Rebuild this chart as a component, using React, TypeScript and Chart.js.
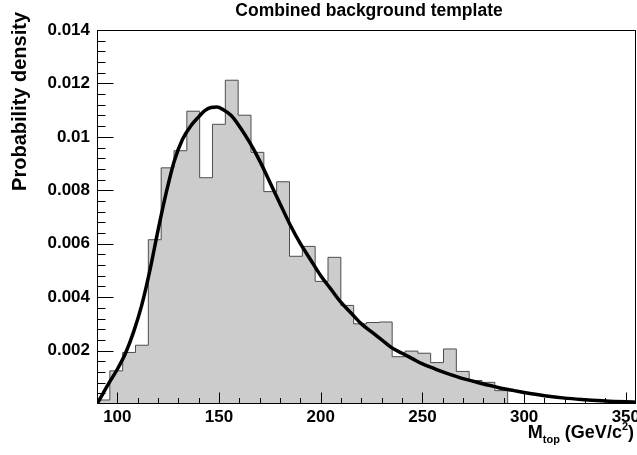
import React, { useEffect, useRef } from "react";
import { Chart, registerables } from "chart.js";

Chart.register(...registerables);

// ---- axis ranges ----
const X_MIN = 90;
const X_MAX = 355;
const Y_MIN = 0;
const Y_MAX = 0.014;

// ---- histogram (42 bins from 90 to 355 GeV/c^2) ----
const BIN_LOW = 90;
const BIN_HIGH = 355;
const binContents = [
  0.00015, 0.00124, 0.00193, 0.0022, 0.00615, 0.00884, 0.00948, 0.01096,
  0.00847, 0.01047, 0.01212, 0.01081, 0.00942, 0.00795, 0.00832, 0.00553,
  0.0059, 0.00459, 0.00549, 0.00369, 0.003, 0.00305, 0.00307, 0.00177,
  0.00198, 0.0019, 0.00155, 0.00206, 0.00122, 0.00088, 0.00081, 0.0005,
  0, 0, 0, 0, 0, 0, 0, 0, 0, 0,
];

// ---- fitted template curve ----
const curveMass = [
  90, 93, 96, 100, 104, 108, 112, 116, 120, 124, 128, 132, 136, 140, 143, 146,
  149, 152, 156, 160, 165, 170, 175, 180, 185, 190, 195, 200, 205, 210, 215,
  220, 225, 230, 235, 240, 245, 250, 255, 260, 265, 270, 275, 280, 285, 290,
  295, 300, 310, 320, 330, 340, 350, 355,
];
const curveDensity = [
  0.0, 0.0004, 0.0008, 0.0013, 0.0019, 0.0027, 0.0037, 0.005, 0.0065, 0.0079,
  0.0091, 0.0099, 0.0104, 0.01075, 0.01098, 0.0111, 0.01112, 0.01102, 0.0108,
  0.0104, 0.0098, 0.0091, 0.0083, 0.0075, 0.0067, 0.006, 0.0054, 0.0048,
  0.0043, 0.0038, 0.0034, 0.003, 0.0027, 0.0024, 0.0021, 0.0019, 0.0017,
  0.0015, 0.00135, 0.0012, 0.00107, 0.00095, 0.00085, 0.00075, 0.00066,
  0.00057, 0.0005, 0.00043, 0.00031, 0.00022, 0.00016, 0.00011, 0.00008,
  0.00007,
];

// ---- ticks ----
const xTickValues = [100, 150, 200, 250, 300, 350];
const xTickLabels = ["100", "150", "200", "250", "300", "350"];
const xMinorStep = 10;
const yTickValues = [0.002, 0.004, 0.006, 0.008, 0.01, 0.012, 0.014];
const yTickLabels = ["0.002", "0.004", "0.006", "0.008", "0.01", "0.012", "0.014"];
const yMinorStep = 0.0004;

const TITLE = "Combined background template";
const Y_TITLE = "Probability density";

const FONT = "'Liberation Sans', Arial, Helvetica, sans-serif";

const rootStyle = {
  id: "rootStyle",
  afterDraw(chart: any) {
    const { ctx, chartArea: a, scales } = chart;
    const xs = scales.x;
    const ys = scales.y;
    ctx.save();
    ctx.strokeStyle = "#000";
    ctx.lineWidth = 1;
    const L = Math.round(a.left) + 0.5;
    const R = Math.round(a.right) - 0.5;
    const T = Math.round(a.top) + 0.5;
    const B = Math.round(a.bottom) - 0.5;
    ctx.strokeRect(L, T, R - L, B - T);

    ctx.beginPath();
    // x ticks
    for (let v = X_MIN; v <= X_MAX + 1e-9; v += xMinorStep) {
      if (v <= X_MIN || v >= X_MAX) continue;
      const major = xTickValues.includes(v);
      const px = Math.round(xs.getPixelForValue(v)) + 0.5;
      ctx.moveTo(px, B);
      ctx.lineTo(px, B - (major ? 11 : 5.5));
    }
    // y ticks
    const nY = Math.round((Y_MAX - Y_MIN) / yMinorStep);
    for (let i = 1; i < nY; i++) {
      const v = Y_MIN + i * yMinorStep;
      const major = i % 5 === 0;
      const py = Math.round(ys.getPixelForValue(v)) + 0.5;
      ctx.moveTo(L, py);
      ctx.lineTo(L + (major ? 16 : 8), py);
    }
    ctx.stroke();

    ctx.fillStyle = "#000";
    // main title
    ctx.font = `bold 17.5px ${FONT}`;
    ctx.textAlign = "center";
    ctx.textBaseline = "alphabetic";
    ctx.fillText(TITLE, 369, 16);

    // y title
    ctx.save();
    ctx.translate(26, 12);
    ctx.rotate(-Math.PI / 2);
    ctx.textAlign = "right";
    ctx.textBaseline = "alphabetic";
    ctx.font = `bold 20px ${FONT}`;
    ctx.fillText(Y_TITLE, 0, 0);
    ctx.restore();

    // x title: M_{top} (GeV/c^{2})
    const big = `bold 18px ${FONT}`;
    const small = `bold 11px ${FONT}`;
    const parts = [
      { t: "M", f: big, dy: 0 },
      { t: "top", f: small, dy: 5 },
      { t: " (GeV/c", f: big, dy: 0 },
      { t: "2", f: small, dy: -8 },
      { t: ")", f: big, dy: 0 },
    ];
    let total = 0;
    for (const p of parts) {
      ctx.font = p.f;
      total += ctx.measureText(p.t).width;
    }
    let x = 634 - total;
    const base = 438;
    ctx.textAlign = "left";
    for (const p of parts) {
      ctx.font = p.f;
      ctx.fillText(p.t, x, base + p.dy);
      x += ctx.measureText(p.t).width;
    }
    ctx.restore();
  },
};

export default function App() {
  const ref = useRef<HTMLCanvasElement | null>(null);

  useEffect(() => {
    if (!ref.current) return;
    const w = (BIN_HIGH - BIN_LOW) / binContents.length;
    const histPoints = binContents.map((v, i) => ({ x: BIN_LOW + i * w, y: v }));
    histPoints.push({ x: BIN_HIGH, y: binContents[binContents.length - 1] });
    const curvePoints = curveMass.map((m, i) => ({ x: m, y: curveDensity[i] }));

    const chart = new Chart(ref.current, {
      type: "line",
      data: {
        datasets: [
          {
            label: "fit",
            data: curvePoints,
            borderColor: "#000",
            borderWidth: 3.5,
            pointRadius: 0,
            cubicInterpolationMode: "monotone",
            fill: false,
            order: 1,
          } as any,
          {
            label: "hist",
            data: histPoints,
            stepped: "before",
            borderColor: "#4d4d4d",
            borderWidth: 1,
            backgroundColor: "#cccccc",
            fill: "origin",
            pointRadius: 0,
            order: 2,
          } as any,
        ],
      },
      options: {
        animation: false,
        responsive: false,
        maintainAspectRatio: false,
        layout: { padding: { left: 0, right: 1, top: 30, bottom: 0 } },
        plugins: {
          legend: { display: false },
          tooltip: { enabled: false },
          title: { display: false },
        },
        scales: {
          x: {
            type: "linear",
            min: X_MIN,
            max: X_MAX,
            grid: { display: false, drawTicks: false },
            border: { display: false },
            afterBuildTicks: (s: any) => {
              s.ticks = xTickValues.map((v) => ({ value: v }));
            },
            afterFit: (s: any) => {
              s.height = 51;
              s.paddingLeft = 0;
              s.paddingRight = 0;
            },
            ticks: {
              autoSkip: false,
              maxRotation: 0,
              padding: 3,
              color: "#000",
              font: { family: FONT, size: 17, weight: "bold" },
              callback: (v: any) => {
                const i = xTickValues.indexOf(Number(v));
                return i >= 0 ? xTickLabels[i] : "";
              },
            },
          },
          y: {
            type: "linear",
            min: Y_MIN,
            max: Y_MAX,
            grid: { display: false, drawTicks: false },
            border: { display: false },
            afterBuildTicks: (s: any) => {
              s.ticks = yTickValues.map((v) => ({ value: v }));
            },
            afterFit: (s: any) => {
              s.width = 97;
              s.paddingTop = 0;
              s.paddingBottom = 0;
            },
            ticks: {
              autoSkip: false,
              padding: 7,
              color: "#000",
              font: { family: FONT, size: 17, weight: "bold" },
              callback: (v: any) => {
                const i = yTickValues.findIndex((t) => Math.abs(t - Number(v)) < 1e-9);
                return i >= 0 ? yTickLabels[i] : "";
              },
            },
          },
        },
      } as any,
      plugins: [rootStyle],
    });
    return () => chart.destroy();
  }, []);

  return (
    <div style={{ position: "absolute", left: 0, top: 0, width: 637, height: 455, background: "#fff" }}>
      <canvas ref={ref} width={637} height={455} style={{ display: "block" }} />
    </div>
  );
}
